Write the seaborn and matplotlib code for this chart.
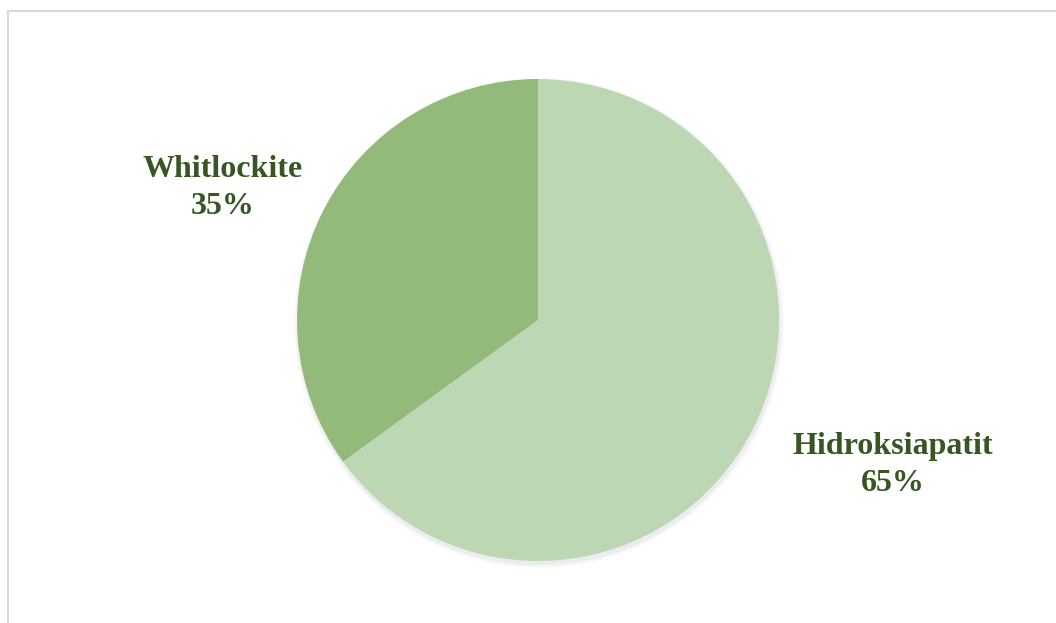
import matplotlib
matplotlib.use("Agg")
import matplotlib.pyplot as plt
import seaborn as sns
from matplotlib.patches import Rectangle, Circle

categories = ["Hidroksiapatit", "Whitlockite"]
values = [65, 35]
label_texts = ["Hidroksiapatit\n65%", "Whitlockite\n35%"]

sns.set_theme(style="white")
plt.rcParams['font.family'] = ['Liberation Serif', 'DejaVu Serif']

colors = sns.color_palette(["#BDD6B3", "#93BA7B"])

W, H = 1056, 623
fig = plt.figure(figsize=(W / 100, H / 100), dpi=100)
ax = fig.add_axes([0, 0, 1, 1])
ax.set_xlim(0, W)
ax.set_ylim(0, H)
ax.axis("off")

# frame
ax.add_patch(Rectangle((8, -20), 1200, H - 11 + 20, fill=False, edgecolor="#D9D9D9", linewidth=1.5))

cx, cy, r = 538, H - 320, 241
# soft shadow
for i, a in enumerate([0.05, 0.04, 0.03]):
    ax.add_patch(Circle((cx + 1, cy - 3), r + 1 + i * 1.5, color="#6b6b80", alpha=a, linewidth=0))

ax.pie(values, colors=colors, startangle=90, counterclock=False,
       center=(cx, cy), radius=r, frame=True,
       wedgeprops=dict(linewidth=0))
ax.set_xlim(0, W)
ax.set_ylim(0, H)
ax.axis("off")

ax.text(893, H - 465, label_texts[0], ha="center", va="center", fontsize=23,
        fontweight="bold", color="#375623", linespacing=1.36)
ax.text(223, H - 188, label_texts[1], ha="center", va="center", fontsize=23,
        fontweight="bold", color="#375623", linespacing=1.36)

fig.savefig("out.png", dpi=100)
